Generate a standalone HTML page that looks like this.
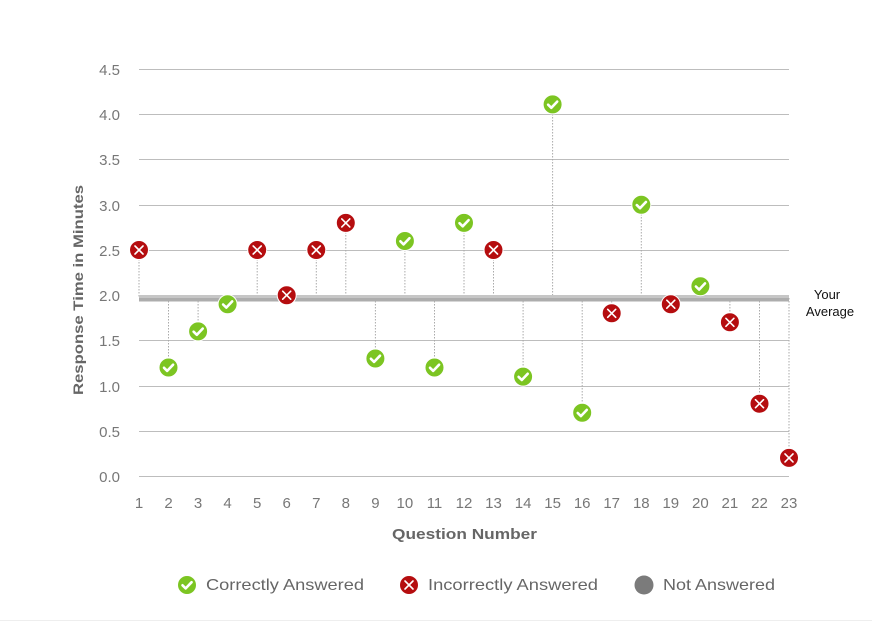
<!DOCTYPE html>
<html><head><meta charset="utf-8"><style>
body{margin:0;background:#fff;}
svg{display:block;font-family:"Liberation Sans",sans-serif;}
</style></head><body>
<svg width="872" height="621" viewBox="0 0 872 621" xmlns="http://www.w3.org/2000/svg">
<defs>
<g id="ok"><circle r="9.5" fill="#7cc522" stroke="#fff" stroke-width="1"/><path d="M-4.5,0.3 L-1.3,3.4 L4.6,-2.8" fill="none" stroke="#fff" stroke-width="2.6" stroke-linecap="round" stroke-linejoin="round"/></g>
<g id="bad"><circle r="9.5" fill="#b50d0f" stroke="#fff" stroke-width="1"/><path d="M-4,-4 L4,4 M4,-4 L-4,4" stroke="#fff" stroke-width="1.6" stroke-linecap="round"/></g>
</defs>
<g stroke="#bdbdbd" stroke-width="1">
<line x1="139" x2="789" y1="69.5" y2="69.5"/><line x1="139" x2="789" y1="114.5" y2="114.5"/>
<line x1="139" x2="789" y1="159.5" y2="159.5"/><line x1="139" x2="789" y1="205.5" y2="205.5"/>
<line x1="139" x2="789" y1="250.5" y2="250.5"/><line x1="139" x2="789" y1="340.5" y2="340.5"/>
<line x1="139" x2="789" y1="386.5" y2="386.5"/><line x1="139" x2="789" y1="431.5" y2="431.5"/>
<line x1="139" x2="789" y1="476.5" y2="476.5"/>
</g>
<g fill="#777" font-size="15" text-anchor="end">
<text x="120" y="75">4.5</text><text x="120" y="120">4.0</text><text x="120" y="165">3.5</text>
<text x="120" y="211">3.0</text><text x="120" y="256">2.5</text><text x="120" y="301">2.0</text>
<text x="120" y="346">1.5</text><text x="120" y="392">1.0</text><text x="120" y="437">0.5</text>
<text x="120" y="482">0.0</text>
</g>
<g fill="#777" font-size="15" text-anchor="middle">
<text x="139" y="508">1</text><text x="168.5" y="508">2</text><text x="198.1" y="508">3</text><text x="227.6" y="508">4</text>
<text x="257.2" y="508">5</text><text x="286.7" y="508">6</text><text x="316.3" y="508">7</text><text x="345.8" y="508">8</text>
<text x="375.4" y="508">9</text><text x="404.9" y="508">10</text><text x="434.5" y="508">11</text><text x="464" y="508">12</text>
<text x="493.5" y="508">13</text><text x="523.1" y="508">14</text><text x="552.6" y="508">15</text><text x="582.2" y="508">16</text>
<text x="611.7" y="508">17</text><text x="641.3" y="508">18</text><text x="670.8" y="508">19</text><text x="700.4" y="508">20</text>
<text x="729.9" y="508">21</text><text x="759.5" y="508">22</text><text x="789" y="508">23</text>
</g>
<text x="392" y="539" fill="#666" font-size="15" font-weight="bold" textLength="145" lengthAdjust="spacingAndGlyphs">Question Number</text>
<text transform="translate(83,395) rotate(-90)" fill="#666" font-size="14" font-weight="bold" textLength="210" lengthAdjust="spacingAndGlyphs">Response Time in Minutes</text>
<g stroke="#aaa" stroke-width="1" stroke-dasharray="1.5,1.5">
<line x1="139" x2="139" y1="250" y2="298"/><line x1="168.5" x2="168.5" y1="298" y2="367"/>
<line x1="198.1" x2="198.1" y1="298" y2="331"/><line x1="257.2" x2="257.2" y1="250" y2="298"/>
<line x1="316.3" x2="316.3" y1="250" y2="298"/><line x1="345.8" x2="345.8" y1="223" y2="298"/>
<line x1="375.4" x2="375.4" y1="298" y2="358"/><line x1="404.9" x2="404.9" y1="241" y2="298"/>
<line x1="434.5" x2="434.5" y1="298" y2="367"/><line x1="464" x2="464" y1="223" y2="298"/>
<line x1="493.5" x2="493.5" y1="250" y2="298"/><line x1="523.1" x2="523.1" y1="298" y2="376"/>
<line x1="552.6" x2="552.6" y1="105" y2="298"/><line x1="582.2" x2="582.2" y1="298" y2="412"/>
<line x1="611.7" x2="611.7" y1="298" y2="313"/><line x1="641.3" x2="641.3" y1="205" y2="298"/>
<line x1="700.4" x2="700.4" y1="286" y2="298"/><line x1="729.9" x2="729.9" y1="298" y2="322"/>
<line x1="759.5" x2="759.5" y1="298" y2="403"/><line x1="789" x2="789" y1="298" y2="458"/>
</g>
<rect x="139" y="295" width="650" height="3" fill="#c6c6c6"/>
<rect x="139" y="298" width="650" height="3.5" fill="#adadad"/>
<text x="827" y="299" fill="#111" font-size="13" text-anchor="middle">Your</text>
<text x="830" y="316" fill="#111" font-size="13" text-anchor="middle">Average</text>
<use href="#bad" x="139" y="250"/><use href="#ok" x="168.5" y="367.5"/><use href="#ok" x="198.1" y="331.4"/>
<use href="#ok" x="227.6" y="304.2"/><use href="#bad" x="257.2" y="250"/><use href="#bad" x="286.7" y="295.2"/>
<use href="#bad" x="316.3" y="250"/><use href="#bad" x="345.8" y="222.9"/><use href="#ok" x="375.4" y="358.5"/>
<use href="#ok" x="404.9" y="241"/><use href="#ok" x="434.5" y="367.5"/><use href="#ok" x="464" y="222.9"/>
<use href="#bad" x="493.5" y="250"/><use href="#ok" x="523.1" y="376.6"/><use href="#ok" x="552.6" y="104.4"/>
<use href="#ok" x="582.2" y="412.7"/><use href="#bad" x="611.7" y="313.3"/><use href="#ok" x="641.3" y="204.8"/>
<use href="#bad" x="670.8" y="304.2"/><use href="#ok" x="700.4" y="286.2"/><use href="#bad" x="729.9" y="322.3"/>
<use href="#bad" x="759.5" y="403.7"/><use href="#bad" x="789" y="457.9"/>
<use href="#ok" x="187" y="585"/>
<text x="206" y="590" fill="#666" font-size="16" textLength="158" lengthAdjust="spacingAndGlyphs">Correctly Answered</text>
<use href="#bad" x="409" y="585"/>
<text x="428" y="590" fill="#666" font-size="16" textLength="170" lengthAdjust="spacingAndGlyphs">Incorrectly Answered</text>
<circle cx="644" cy="585" r="9.5" fill="#7b7b7b"/>
<text x="663" y="590" fill="#666" font-size="16" textLength="112" lengthAdjust="spacingAndGlyphs">Not Answered</text>
<line x1="0" x2="872" y1="620.5" y2="620.5" stroke="#eee"/>
</svg>
</body></html>
